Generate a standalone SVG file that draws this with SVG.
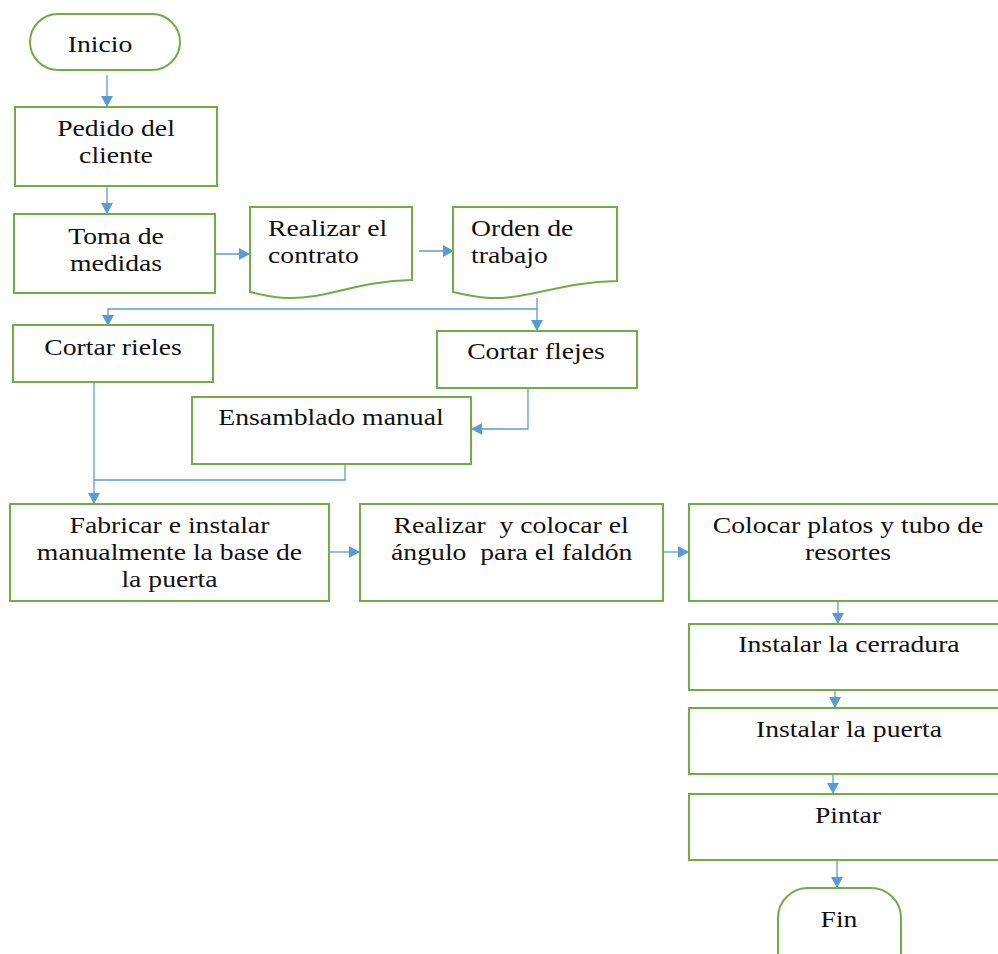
<svg xmlns="http://www.w3.org/2000/svg" width="998" height="954" viewBox="0 0 998 954">
<defs>
<style>
.n{fill:#fff;stroke:#70AD47;stroke-width:2}
.c{fill:none;stroke:#5B9BD5;stroke-width:1.3}
.t{font-family:"Liberation Serif","Times New Roman",serif;font-size:22.7px;fill:#111}
.m{text-anchor:middle}
</style>
<marker id="ah" markerUnits="userSpaceOnUse" markerWidth="12" markerHeight="12" viewBox="0 0 11 12" refX="11" refY="6" orient="auto">
<path d="M0,0 L11,6 L0,12 z" fill="#5B9BD5"/>
</marker>
</defs>
<rect width="998" height="954" fill="#fff"/>

<g id="connectors">
<line class="c" x1="107" y1="75" x2="107" y2="107" marker-end="url(#ah)"/>
<line class="c" x1="107" y1="186" x2="107" y2="214" marker-end="url(#ah)"/>
<line class="c" x1="215" y1="254" x2="250" y2="254" marker-end="url(#ah)"/>
<line class="c" x1="419" y1="251" x2="454" y2="251" marker-end="url(#ah)"/>
<line class="c" x1="537" y1="298" x2="537" y2="331" marker-end="url(#ah)"/>
<polyline class="c" points="537,309 108,309 108,326" marker-end="url(#ah)"/>
<polyline class="c" points="528,388 528,429 471,429" marker-end="url(#ah)"/>
<line class="c" x1="94" y1="382" x2="94" y2="504" marker-end="url(#ah)"/>
<polyline class="c" points="345,464 345,480 94,480"/>
<line class="c" x1="330" y1="552" x2="360" y2="552" marker-end="url(#ah)"/>
<line class="c" x1="663" y1="552" x2="689" y2="552" marker-end="url(#ah)"/>
<line class="c" x1="838" y1="601" x2="838" y2="624" marker-end="url(#ah)"/>
<line class="c" x1="835" y1="690" x2="835" y2="708" marker-end="url(#ah)"/>
<line class="c" x1="833" y1="774" x2="833" y2="794" marker-end="url(#ah)"/>
<line class="c" x1="837" y1="860" x2="837" y2="888" marker-end="url(#ah)"/>
</g>

<g id="inicio">
<rect class="n" x="30" y="14" width="150" height="56" rx="28"/>
<text class="t m" transform="scale(1.22 1)" x="82" y="52">Inicio</text>
</g>
<g id="pedido">
<rect class="n" x="15" y="107" width="202" height="79"/>
<text class="t m" transform="scale(1.22 1)" x="95.1" y="136">Pedido del</text>
<text class="t m" transform="scale(1.22 1)" x="95.1" y="163">cliente</text>
</g>
<g id="toma">
<rect class="n" x="14" y="214" width="201" height="79"/>
<text class="t m" transform="scale(1.22 1)" x="95.1" y="244">Toma de</text>
<text class="t m" transform="scale(1.22 1)" x="95.1" y="271">medidas</text>
</g>
<g id="contrato">
<path class="n" d="M250,207 H412 V280 C370,281 345,291 315,296 C290,300 275,298 250,292 Z"/>
<text class="t" transform="scale(1.22 1)" x="219.7" y="236">Realizar el</text>
<text class="t" transform="scale(1.22 1)" x="219.7" y="263">contrato</text>
</g>
<g id="orden">
<path class="n" d="M453,207 H617 V281 C575,282 549,291 519,296 C494,300 478,298 453,292 Z"/>
<text class="t" transform="scale(1.22 1)" x="386.1" y="236">Orden de</text>
<text class="t" transform="scale(1.22 1)" x="386.1" y="263">trabajo</text>
</g>
<g id="rieles">
<rect class="n" x="13" y="325" width="200" height="57"/>
<text class="t m" transform="scale(1.22 1)" x="92.6" y="355">Cortar rieles</text>
</g>
<g id="flejes">
<rect class="n" x="437" y="331" width="200" height="57"/>
<text class="t m" transform="scale(1.22 1)" x="439.3" y="359">Cortar flejes</text>
</g>
<g id="ensamblado">
<rect class="n" x="192" y="397" width="279" height="67"/>
<text class="t m" transform="scale(1.22 1)" x="271.3" y="425">Ensamblado manual</text>
</g>
<g id="fabricar">
<rect class="n" x="10" y="504" width="319" height="97"/>
<text class="t m" transform="scale(1.22 1)" x="138.9" y="533">Fabricar e instalar</text>
<text class="t m" transform="scale(1.22 1)" x="138.9" y="560">manualmente la base de</text>
<text class="t m" transform="scale(1.22 1)" x="138.9" y="587">la puerta</text>
</g>
<g id="angulo">
<rect class="n" x="360" y="504" width="303" height="97"/>
<text class="t m" transform="scale(1.22 1)" x="418.9" y="533" xml:space="preserve">Realizar  y colocar el</text>
<text class="t m" transform="scale(1.22 1)" x="419.5" y="560" xml:space="preserve">ángulo  para el faldón</text>
</g>
<g id="platos">
<rect class="n" x="689" y="504" width="318" height="97"/>
<text class="t m" transform="scale(1.22 1)" x="695.1" y="533">Colocar platos y tubo de</text>
<text class="t m" transform="scale(1.22 1)" x="695.1" y="560">resortes</text>
</g>
<g id="cerradura">
<rect class="n" x="689" y="624" width="318" height="66"/>
<text class="t m" transform="scale(1.22 1)" x="695.9" y="652">Instalar la cerradura</text>
</g>
<g id="puerta">
<rect class="n" x="689" y="708" width="318" height="66"/>
<text class="t m" transform="scale(1.22 1)" x="695.9" y="737">Instalar la puerta</text>
</g>
<g id="pintar">
<rect class="n" x="689" y="794" width="318" height="66"/>
<text class="t m" transform="scale(1.22 1)" x="695.1" y="823">Pintar</text>
</g>
<g id="fin">
<rect class="n" x="778" y="888" width="123" height="100" rx="30"/>
<text class="t m" transform="scale(1.22 1)" x="687.7" y="927">Fin</text>
</g>
</svg>
